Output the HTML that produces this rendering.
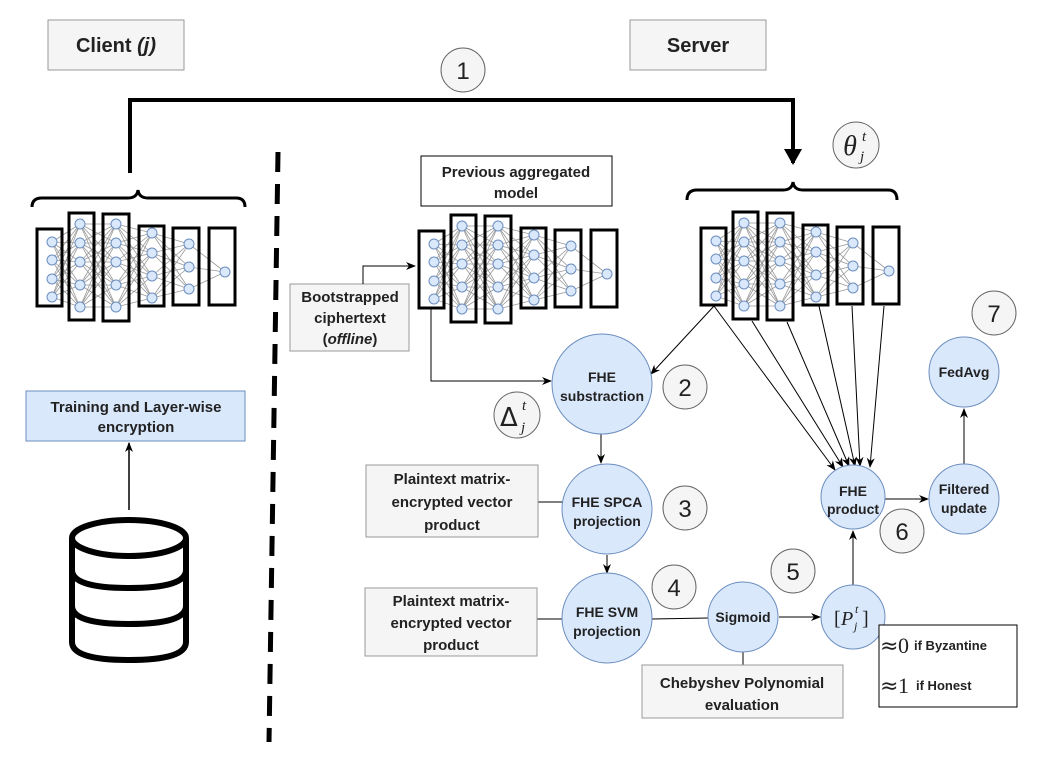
<!DOCTYPE html>
<html><head><meta charset="utf-8"><style>
html,body{margin:0;padding:0;background:#fff;}
svg text{font-family:"Liberation Sans",Arial,sans-serif;font-weight:bold;fill:#222;}
.m{font-family:"Liberation Serif",serif;font-weight:normal;font-style:italic;}
</style></head><body>
<svg id="s" width="1046" height="761" viewBox="0 0 1046 761" xmlns="http://www.w3.org/2000/svg">
<defs>
<marker id="a" markerWidth="10" markerHeight="10" refX="9" refY="5" orient="auto" markerUnits="userSpaceOnUse"><path d="M0,1 L10,5 L0,9 L3,5 z" fill="#000"/></marker>
<marker id="b" markerWidth="20" markerHeight="20" refX="14" refY="9" orient="auto" markerUnits="userSpaceOnUse"><path d="M0,0 L16,9 L0,18 z" fill="#000"/></marker>
</defs>
<rect x="48" y="20" width="136" height="50" fill="#f5f5f5" stroke="#999"/>
<text x="116" y="52" text-anchor="middle" font-size="20" fill="#333">Client <tspan font-style="italic">(j)</tspan></text>
<rect x="630" y="20" width="136" height="50" fill="#f5f5f5" stroke="#999"/>
<text x="698" y="52" text-anchor="middle" font-size="20" fill="#333">Server</text>
<path d="M130,173 V100 H793 V163" fill="none" stroke="#000" stroke-width="4" marker-end="url(#b)"/>
<circle cx="463" cy="70" r="22" fill="#f5f5f5" stroke="#666"/><text x="463" y="79" text-anchor="middle" font-size="24" style="font-weight:normal" fill="#333">1</text>
<circle cx="856" cy="145" r="23" fill="#f5f5f5" stroke="#666"/>
<text x="850" y="155" class="m" font-size="28" text-anchor="middle">θ</text><text x="862" y="141" class="m" font-size="15">t</text><text x="860" y="161" class="m" font-size="15">j</text>
<line x1="278" y1="152" x2="269" y2="742" stroke="#000" stroke-width="5" stroke-dasharray="20,12"/>
<path d="M32,207 Q32,198 42,198 L128,198 Q137,198 138,190 Q139,198 148,198 L236,198 Q245,198 245,207" fill="none" stroke="#000" stroke-width="3"/>
<path d="M687,200 Q687,190 697,190 L783,190 Q792,190 793,182 Q794,190 803,190 L888,190 Q897,190 897,200" fill="none" stroke="#000" stroke-width="3"/>
<g id="nets"></g>
<rect x="26" y="391" width="219" height="50" fill="#dae8fc" stroke="#6c8ebf"/>
<text x="136" y="412" text-anchor="middle" font-size="15">Training and Layer-wise</text>
<text x="136" y="432" text-anchor="middle" font-size="15">encryption</text>
<line x1="129" y1="510" x2="129" y2="443" stroke="#000" stroke-width="1.5" marker-end="url(#a)"/>
<g fill="none" stroke="#000" stroke-width="6">
<path d="M72,538 V642 Q72,660 129,660 Q186,660 186,642 V538"/>
<ellipse cx="129" cy="538" rx="57" ry="18"/>
<path d="M72,570 Q72,588 129,588 Q186,588 186,570"/>
<path d="M72,606 Q72,624 129,624 Q186,624 186,606"/>
</g>
<rect x="421" y="156" width="191" height="50" fill="#fff" stroke="#000"/>
<text x="516" y="177" text-anchor="middle" font-size="15">Previous aggregated</text>
<text x="516" y="198" text-anchor="middle" font-size="15">model</text>
<rect x="290" y="284" width="119" height="67" fill="#f5f5f5" stroke="#999"/>
<text x="350" y="302" text-anchor="middle" font-size="15" fill="#333">Bootstrapped</text>
<text x="350" y="323" text-anchor="middle" font-size="15" fill="#333">ciphertext</text>
<text x="350" y="344" text-anchor="middle" font-size="15" fill="#333">(<tspan font-style="italic">offline</tspan>)</text>
<path d="M363,284 V266 H415" fill="none" stroke="#000" marker-end="url(#a)"/>
<path d="M431,308 V381 H551" fill="none" stroke="#000" marker-end="url(#a)"/>
<g stroke="#000" fill="none" marker-end="url(#a)">
<line x1="714" y1="306" x2="651" y2="374"/>
<line x1="714" y1="306" x2="835" y2="470"/>
<line x1="752" y1="321" x2="843" y2="467"/>
<line x1="787" y1="322" x2="849" y2="466"/>
<line x1="819" y1="306" x2="855" y2="466"/>
<line x1="852" y1="306" x2="860" y2="466"/>
<line x1="884" y1="306" x2="870" y2="467"/>
<line x1="601" y1="434" x2="601" y2="463"/>
<line x1="607" y1="555" x2="607" y2="573"/>
<line x1="779" y1="617" x2="820" y2="617"/>
<line x1="853" y1="586" x2="853" y2="531"/>
<line x1="885" y1="499" x2="928" y2="499"/>
<line x1="964" y1="464" x2="964" y2="409"/>
</g>
<g stroke="#000"><line x1="538" y1="502" x2="563" y2="502"/><line x1="537" y1="619" x2="563" y2="619"/><line x1="652" y1="619" x2="708" y2="618"/><line x1="743" y1="652" x2="743" y2="666"/></g>
<g fill="#dae8fc" stroke="#6c8ebf">
<circle cx="602" cy="384" r="50"/><circle cx="607" cy="509" r="45"/><circle cx="607" cy="618" r="45"/>
<circle cx="743" cy="617" r="35"/><circle cx="853" cy="617" r="32"/><circle cx="853" cy="497" r="32"/>
<circle cx="964" cy="499" r="35"/><circle cx="964" cy="372" r="35"/>
</g>
<g font-size="14" text-anchor="middle">
<text x="602" y="382">FHE</text><text x="602" y="401">substraction</text>
<text x="607" y="507">FHE SPCA</text><text x="607" y="526">projection</text>
<text x="607" y="617">FHE SVM</text><text x="607" y="636">projection</text>
<text x="743" y="622">Sigmoid</text>
<text x="853" y="496">FHE</text><text x="853" y="514">product</text>
<text x="964" y="494">Filtered</text><text x="964" y="513">update</text>
<text x="964" y="377">FedAvg</text>
</g>
<text x="834" y="625" font-size="20" style="font-family:'Liberation Serif',serif;font-weight:normal">[</text>
<text x="841" y="625" class="m" font-size="20">P</text>
<text x="855" y="613" class="m" font-size="12">t</text><text x="854" y="630" class="m" font-size="12">j</text>
<text x="862" y="625" font-size="20" style="font-family:'Liberation Serif',serif;font-weight:normal">]</text>
<g fill="#f5f5f5" stroke="#666">
<circle cx="685" cy="387" r="22"/><circle cx="685" cy="508" r="22"/><circle cx="674" cy="587" r="22"/>
<circle cx="793" cy="571" r="22"/><circle cx="902" cy="531" r="22"/><circle cx="994" cy="313" r="22"/>
<circle cx="517" cy="415" r="23"/>
</g>
<g font-size="24" text-anchor="middle" fill="#333">
<text x="685" y="396" style="font-weight:normal">2</text><text x="685" y="517" style="font-weight:normal">3</text>
<text x="674" y="596" style="font-weight:normal">4</text><text x="793" y="580" style="font-weight:normal">5</text>
<text x="902" y="540" style="font-weight:normal">6</text><text x="994" y="322" style="font-weight:normal">7</text>
</g>
<text x="500" y="426" font-size="26" style="font-family:'DejaVu Sans',sans-serif;font-weight:normal">Δ</text>
<text x="522" y="410" class="m" font-size="15">t</text><text x="521" y="432" class="m" font-size="15">j</text>
<rect x="366" y="465" width="172" height="72" fill="#f5f5f5" stroke="#999"/>
<g font-size="15" text-anchor="middle" fill="#333"><text x="452" y="484">Plaintext matrix-</text><text x="452" y="507">encrypted vector</text><text x="452" y="530">product</text></g>
<rect x="365" y="588" width="172" height="68" fill="#f5f5f5" stroke="#999"/>
<g font-size="15" text-anchor="middle" fill="#333"><text x="451" y="606">Plaintext matrix-</text><text x="451" y="628">encrypted vector</text><text x="451" y="650">product</text></g>
<rect x="642" y="665" width="201" height="53" fill="#f5f5f5" stroke="#999"/>
<g font-size="15" text-anchor="middle" fill="#333"><text x="742" y="688">Chebyshev Polynomial</text><text x="742" y="710">evaluation</text></g>
<rect x="879" y="625" width="138" height="82" fill="#fff" stroke="#000"/>
<text x="880" y="653" font-size="22" style="font-family:'DejaVu Sans',sans-serif;font-weight:normal">≈</text><text x="898" y="653" font-size="22" style="font-family:'Liberation Serif',serif;font-weight:normal">0</text><text x="914" y="650" font-size="13">if Byzantine</text>
<text x="880" y="693" font-size="22" style="font-family:'DejaVu Sans',sans-serif;font-weight:normal">≈</text><text x="898" y="693" font-size="22" style="font-family:'Liberation Serif',serif;font-weight:normal">1</text><text x="916" y="690" font-size="13">if Honest</text>
</svg>
<script>
(function(){
var L=[[52,[242,260,279,297],37,62,229,306],[80,[224,243,262,285,307],69,94,213,320],[116,[224,243,262,285,307],103,129,214,321],[152,[233,253,276,298],139,164,226,306],[189,[244,267,289],173,199,228,305],[225,[272],209,235,228,305]];
var offs=[[0,0],[382,2],[664,-1]];var s='';
offs.forEach(function(o){var dx=o[0],dy=o[1];
for(var i=0;i<L.length-1;i++){L[i][1].forEach(function(y1){L[i+1][1].forEach(function(y2){s+='<line x1="'+(L[i][0]+dx)+'" y1="'+(y1+dy)+'" x2="'+(L[i+1][0]+dx)+'" y2="'+(y2+dy)+'" stroke="#999" stroke-width="0.8"/>';});});}
L.forEach(function(l){s+='<rect x="'+(l[2]+dx)+'" y="'+(l[4]+dy)+'" width="'+(l[3]-l[2])+'" height="'+(l[5]-l[4])+'" fill="none" stroke="#000" stroke-width="3"/>';
l[1].forEach(function(y){s+='<circle cx="'+(l[0]+dx)+'" cy="'+(y+dy)+'" r="5" fill="#dae8fc" stroke="#6c8ebf"/>';});});});
document.getElementById('nets').innerHTML=s;})();
</script>
</body></html>
